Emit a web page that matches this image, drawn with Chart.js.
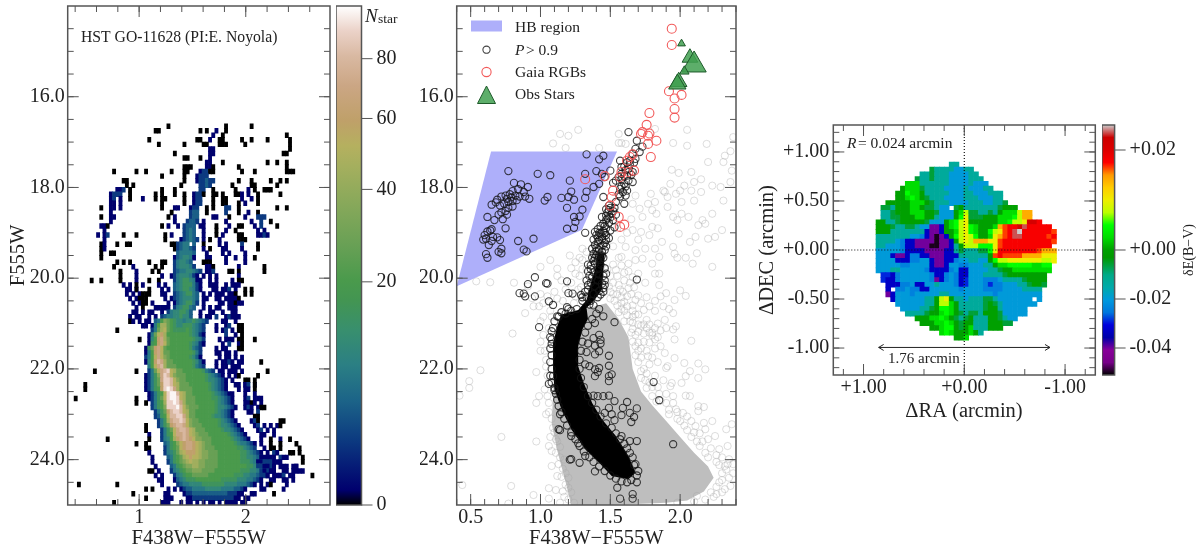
<!DOCTYPE html>
<html>
<head>
<meta charset="utf-8">
<script src="https://cdn.jsdelivr.net/npm/chart.js@4/dist/chart.umd.min.js"></script>
<style>
    html, body { margin: 0; padding: 0; background: #fff; width: 1200px; height: 552px; overflow: hidden; }
    canvas { position: absolute; top: 0; }
</style>
</head>
<body>
<canvas id="cmd-density" style="left:0;width:332px;height:552px"></canvas>
<canvas id="density-bar" style="left:336px;width:84px;height:552px"></canvas>
<canvas id="cmd-stars" style="left:420px;width:320px;height:552px"></canvas>
<canvas id="dered-map" style="left:755px;width:342px;height:552px"></canvas>
<canvas id="dered-bar" style="left:1101.7px;width:98px;height:552px"></canvas>
<script>
// left panel: binned CMD, each row is [mag row, "col:levels col:levels ..."]
// mag of a row = 14 + 0.1 * row, colour of a col = 0.33 + 0.03 * col
const levelCounts = { k: 0, a: 0.1, b: 1.7, c: 4, d: 7, e: 10, f: 15, g: 20, h: 27, i: 35, j: 45, l: 52, m: 60, n: 70, o: 80, p: 90, q: 98 };
const densityRows = [
    [26, "31:k 49:k 57:k"],
    [27, "27:k 28:k 41:k 43:k 46:a 49:k"],
    [28, "45:a 48:k 68:k"],
    [29, "25:k 40:kk 44:a 47:k 48:k 54:k 57:k 62:k 69:k"],
    [30, "28:k 36:k 42:kk 47:kkk 55:k 69:k"],
    [31, "44:aa 69:k"],
    [32, "33:k 44:aa 67:kk"],
    [33, "36:kk 41:k 44:a"],
    [34, "43:aa 48:k 62:k 65:k 68:k"],
    [35, "36:kk 38:k 43:aak 53:k 68:k"],
    [36, "14:k 21:k 24:k 32:k 36:kk 41:abbkk 54:k 58:k 68:k 69:kk"],
    [37, "29:k 36:k 40:abbb"],
    [38, "17:kk 36:k 40:abbcbb 53:k 57:k 63:k 66:k 68:k"],
    [39, "18:k 20:k 35:k 41:bbcb 51:k 57:k 58:k 65:k"],
    [40, "15:aab 19:k 29:k 33:k 41:bb 45:k 52:k 56:a 58:k 61:kkk"],
    [41, "13:abbb 19:k 27:k 29:k 33:k 36:k 39:abb 42:k 45:kk 48:k 52:kk 54:a 56:a 59:k 66:k"],
    [42, "13:ab.a 19:k 23:a 27:k 29:kk 36:k 39:abb 45:k 48:kk 54:a 57:a 59:k"],
    [43, "13:aa 16:a 29:k 36:k 39:abb 45:k 48:kk 53:k 55:a 59:k"],
    [44, "10:k 13:aa 16:a 29:k 33:aa 38:abb 43:k 45:k 49:bb 53:k 65:k 68:k"],
    [45, "13:a 32:k 38:bcc 43:k 49:b 53:k 56:a 59:k"],
    [46, "10:k 13:aa 31:k 33:a 38:bcc 45:aa 50:k 55:a 59:bbb"],
    [47, "13:a 33:a 37:bccb 42:a 49:a 57:a 60:b 63:k"],
    [48, "10:aak 29:k 31:a 34:a 36:bccc 41:aa 46:k 50:a 53:kk 58:a 60:b 65:k"],
    [49, "11:a 36:bcdc 42:a 46:k 49:a 52:k 59:a 61:a"],
    [50, "9:a.ab 17:k 21:k 30:k 32:a 36:bcdc 42:a 46:k 48:a 53:kk 59:aab 62:a"],
    [51, "11:a 30:k 35:abcdcb 42:a 44:k 47:a 53:kkk"],
    [52, "10:k 11:a 15:k 18:kk 32:kk 34:bcdd.c 42:k 47:a 49:a 54:b 59:k"],
    [53, "10:k 11:a 33:k 34:bcddcb 42:a 44:k 48:aa 54:a 59:k"],
    [54, "10:k 13:kk 34:cddddc 43:a 48:a 50:a 55:a"],
    [55, "10:k 33:a 34:cdeeda 43:aa 49:a 52:a 55:a 58:k"],
    [56, "15:k 17:k 19:k 25:k 29:kk 33:bdeedc 42:kkk 49:a 55:a"],
    [57, "14:k 20:a 27:k 29:k 33:bdeeedb 43:aak 53:a 61:k"],
    [58, "16:k 21:a 26:k 28:k 33:bcddeedcb 43:aab 50:kk 53:k 61:k"],
    [59, "16:k 21:a 29:a 32:abdeeedba 42:a.a 46:a 53:a"],
    [60, "7:k 10:k 16:k 21:a 25:k 28:k 33:bdeffeda 41:a 44:a.a 51:a 53:kk"],
    [61, "17:a.a 21:k 23:a 28:a 30:a 33:cdefffdb 41:a 44:aaa 49:a 51:aa 53:a"],
    [62, "18:aa.a 21:k 25:k 29:a 31:a 33:cdeffedb 41:a 45:aa 48:aab 52:a 55:k 57:k"],
    [63, "18:a 20:a.a 23:kk 25:k 29:aa 33:bcdeffdc 42:a.a 46:aaa 50:aa 52:k 55:k 57:k"],
    [64, "19:a.a 22:kkk 30:a.a 33:bcdeeedc 42:aa 46:aa 49:aa 51:aa 53:k"],
    [65, "20:a.ak 23:kk 26:a 31:a 33:acdeffdb 42:a 47:aa 50:aa 52:ka 54:a"],
    [66, "21:a 23:k 27:aaaaa 33:bdeffdc 42:a.a 46:aa 50:aa 52:a"],
    [67, "20:aa 23:a 25:aa 29:a 31:bdeeffec 41:a 44:aa 48:a 51:aa"],
    [68, "19:a.a 22:a 25:a.a 29:bcddeefeec 41:a.aa 46:b 49:aba 52:aa"],
    [69, "19:ka 22:a.a 25:a 27:cdgihgfeedeefedcb 48:aa 52:a"],
    [70, "23:aa 26:adgjjhgfeefffedcb 46:a 49:ab 53:kk"],
    [71, "15:k 26:bdhjlhgffffgfedcb 46:a 48:ab.a 53:kk"],
    [72, "25:adhlmjgggggggfedba 49:b 52:a 54:k"],
    [73, "22:k 25:aegmnjhgggggggfedb 47:a.a 50:aa 53:kk 58:k"],
    [74, "25:afgmnlhggggggfedba 48:a.b 53:ak"],
    [75, "24:afhmnlhgggggggfdcb 46:a 48:aa 53:kk"],
    [76, "24:adgmnlhhgggggggfdb 46:aa 49:aa 52:a"],
    [77, "24:bdglnlihggggggfeca 47:a.a 50:a 52:a 54:a"],
    [78, "24:aegmonjhhggggggfeca 46:a.a 49:aba 53:aa 60:k"],
    [79, "25:dglnojhhhgggggfdcb 46:a.aa 51:aaa 53:a"],
    [80, "8:k 21:k 25:bdhlnopljhhggggggfdcb 47:aa.aa 52:a.a 62:k"],
    [81, "24:abdfinpolihhhggggggfedcba 50:a.a 53:k 59:k"],
    [82, "24:abdfhnppolihhggggggfeedcba 51:a 55:kk 58:k"],
    [83, "5:k 24:abdfhmppoljhhhggggggfedcba 52:aa.a 55:ab.a 58:k"],
    [84, "5:k 24:abdfgmpqpnjhhhhgggggfedcba 53:a.aa 58:k"],
    [85, "25:abdfglpqqoljhhggggggfedcbaa 55:a 58:a"],
    [86, "2:k 21:k 25:abdfhlpqqpljhhhgggggffedcba 55:ab.a 59:aa"],
    [87, "21:k 24:k 26:bdfgjppqpnjhhhggggggfedcba 55:aak 58:a.a"],
    [88, "26:bdfgipppqolihhhgggggfeedcba 55:aba.a 60:kk"],
    [89, "27:bdfhmoppoljhhggggggfedcba 56:aa.b"],
    [90, "27:bcfglooppnjhhgggggfeedcba 58:kk"],
    [91, "28:bdfjnoopolihhggggggfedcba 57:abk 66:kk"],
    [92, "24:k 28:bdfhmnoonlihhhgggggfeedcba 58:ab 61:a 63:a.a 66:k"],
    [93, "24:k 29:bdfhlnoonljhhhgggggfeedcba 59:ab 62:a.a"],
    [94, "25:a 29:bdfglnnonljihhhggggggfedcba 60:aa 64:a"],
    [95, "12:k 25:k 29:bdegjmnonmliihhhggggggfedcba 60:a 63:k 66:a 69:k"],
    [96, "21:k 24:k 30:cdfgilmnnmljihhgggggggfeddcba 60:a 63:k 66:k 71:k"],
    [97, "24:kk 30:bdfghlmnnmljihhhgggggggffedcb 61:a 63:kk 66:k 72:k"],
    [98, "25:a 30:bdefhjlmmmljiihhhgggggggffedcba 62:a.b 65:a 69:kk 72:k"],
    [99, "26:a 31:cdfghjlmlljiihhhgggggggffeedcba 60:a.aaa.b 67:aa 73:k"],
    [100, "26:a 31:bdfghijljjiihhhhgggggggfffeddcba 59:aabbbaa 66:a 73:k"],
    [101, "27:a 32:cdfghiijjiihhhhgggggggggffeedcbba 59:bbaa 64:a.aaa.aa 71:a"],
    [102, "25:kk 28:a 32:bdefghhiiihhhhggggggggfffeeddcbba 60:ba 63:aa 67:aa.aaaa"],
    [103, "27:a 29:a 33:bdefgghhhhhggggggggfffeeddcbba 62:a.aa 66:ab.aa 76:k"],
    [104, "28:aa 33:acdefffggggggggfffffeeeddcba 63:aa 67:aa 70:a"],
    [105, "3:k 15:k 29:a 34:bcddeeeefffffffeeeedddcba 60:a 62:ak 68:a"],
    [106, "24:k 26:k 31:a.a 35:abccddddeeeeeddddccba 60:aa 67:a"],
    [107, "20:k 30:aa 36:abbcccccccccccbbbaa 57:aa 64:k"],
    [108, "24:k 30:aaa 37:aabbbbbbbbbbbbbaa 55:aa"],
    [109, "14:k 29:aaa 35:a.aa 40:a.a.aa.a.a.aa 50:a.a 54:aa"],
];
const densityXTicks = [1, 2];
const densityYTicks = [16, 18, 20, 22, 24];
const densityBarTicks = [0, 20, 40, 60, 80];

// middle panel: F438W-F555W, F555W pairs
const hbRegion = [[0.646, 17.21], [1.548, 17.21], [1.297, 18.93], [0.4, 20.18]];
const fieldCore = [[1.30, 20.7], [1.47, 20.55], [1.56, 20.9], [1.63, 21.3], [1.66, 22], [1.72, 22.5], [1.8, 22.8], [1.9, 23.15], [2.0, 23.5], [2.1, 23.85], [2.2, 24.15], [2.24, 24.4], [2.17, 24.7], [2.05, 24.9], [1.9, 24.95], [1.5, 25], [1.22, 25], [1.18, 24.5], [1.12, 23.8], [1.08, 23.2], [1.1, 22], [1.12, 21]];
const memberCore = [[1.45, 19.85], [1.44, 20.25], [1.39, 20.47], [1.33, 20.66], [1.34, 20.9], [1.30, 21.13], [1.27, 21.5], [1.27, 21.94], [1.31, 22.31], [1.37, 22.75], [1.44, 23.11], [1.54, 23.48], [1.63, 23.92], [1.68, 24.29], [1.63, 24.43], [1.51, 24.36], [1.42, 24.07], [1.32, 23.77], [1.22, 23.33], [1.15, 22.89], [1.10, 22.45], [1.09, 22.01], [1.09, 21.43], [1.12, 21.06], [1.15, 20.8], [1.27, 20.7], [1.33, 20.48], [1.36, 20.11], [1.39, 19.82], [1.41, 19.45], [1.46, 19.45]];
const fieldStars = [
    [1.27, 16.73], [1.14, 16.82], [1.20, 16.86], [1.09, 17.03], [1.18, 17.13], [1.42, 17.13], [1.56, 16.82], [1.56, 17.02], [1.58, 17.02], [1.61, 17.04],
    [1.82, 16.71], [2.05, 16.73], [1.95, 17.02], [2.05, 17.08], [2.19, 17.04], [2.38, 16.89], [2.36, 17.2], [2.32, 17.3], [2.2, 17.44], [2.31, 17.44],
    [2.37, 17.63], [1.94, 17.61], [1.99, 17.68], [2.08, 17.66], [1.93, 17.92], [2.03, 17.96], [2.1, 17.88], [2.15, 17.82], [2.23, 17.96], [2.36, 17.88],
    [2.29, 17.99], [1.88, 18.07], [1.89, 18.1], [1.79, 18.14], [1.68, 18.18], [2.0, 18.07], [2.08, 18.07], [2.15, 18.1], [1.91, 18.21], [1.97, 18.14],
    [2.01, 18.32], [2.1, 18.29], [2.31, 18.29], [1.82, 18.32], [1.77, 18.36], [1.66, 18.36], [1.71, 18.47], [1.8, 18.5], [1.83, 18.58], [1.91, 18.43],
    [1.95, 18.65], [2.01, 18.58], [2.06, 18.65], [2.16, 18.72], [2.18, 18.8], [2.13, 18.83], [2.23, 18.58], [1.8, 18.87], [1.72, 18.98], [1.66, 18.94],
    [1.84, 18.9], [1.98, 18.72], [2.11, 19.09], [1.99, 19.02], [2.2, 19.13], [2.25, 19.09], [2.3, 18.94], [1.95, 19.31], [1.96, 19.46], [1.98, 19.55],
    [1.68, 19.38], [1.61, 19.31], [1.75, 19.35], [1.82, 19.35], [1.3, 19.35], [1.33, 19.42], [1.21, 19.5], [1.07, 19.6], [1.0, 19.75], [1.12, 19.79],
    [1.58, 19.53], [1.63, 19.68], [1.68, 19.6], [1.73, 19.57], [1.8, 19.68], [1.85, 19.53], [2.04, 19.55], [2.09, 19.68], [2.23, 19.75], [0.54, 20.07],
    [0.64, 20.09], [0.81, 20.1], [0.91, 20.18], [0.94, 20.44], [0.99, 20.62], [0.89, 20.77], [0.8, 21.22], [0.97, 22.07], [0.57, 22.03], [0.49, 22.27],
    [0.49, 22.42], [0.42, 22.59], [0.99, 22.6], [0.97, 22.75], [1.06, 22.75], [0.72, 23.5], [0.97, 23.6], [1.06, 23.7], [1.08, 23.81], [1.08, 24.14],
    [1.12, 24.36], [0.44, 24.56], [0.79, 24.58], [1.06, 24.63], [1.11, 24.67], [0.95, 24.78], [1.06, 24.86], [0.77, 24.97], [1.82, 19.9], [1.85, 19.9],
    [2.0, 20.27], [2.04, 20.39], [1.85, 20.15], [1.9, 20.33], [1.96, 20.48], [1.95, 20.77], [1.8, 21.2], [1.84, 21.0], [1.68, 20.8], [1.76, 20.92],
    [1.89, 20.92], [1.97, 21.06], [1.95, 21.13], [1.82, 21.35], [2.08, 21.38], [1.96, 21.35], [1.89, 21.65], [1.77, 21.72], [1.96, 21.76], [2.03, 21.87],
    [1.91, 21.94], [1.90, 21.98], [2.13, 21.88], [2.18, 22.01], [2.07, 22.05], [2.04, 22.16], [2.13, 22.2], [2.01, 22.31], [1.93, 22.38], [1.94, 22.31],
    [2.04, 22.59], [2.07, 22.6], [1.97, 22.89], [2.02, 22.97], [2.13, 22.82], [2.17, 22.84], [2.13, 22.93], [2.17, 23.19], [2.23, 23.15], [2.18, 23.33],
    [2.33, 23.33], [2.37, 23.22], [2.11, 23.26], [2.25, 23.48], [2.28, 23.77], [2.34, 23.7], [2.35, 23.99], [2.32, 24.14], [2.36, 24.58], [2.26, 24.76],
    [2.33, 24.22], [1.66, 20.6], [1.7, 20.8], [1.64, 20.95], [1.72, 21.05], [1.68, 21.25], [1.76, 21.1], [1.74, 21.4], [1.7, 21.6], [1.78, 21.9],
    [1.72, 22.05], [1.78, 22.3], [1.85, 22.55], [1.92, 22.9], [1.9, 22.75], [1.98, 23.1], [2.05, 23.35], [2.12, 23.6], [2.18, 23.85], [2.26, 24.05],
    [2.3, 24.3], [2.28, 24.5], [2.22, 24.72], [2.12, 24.8], [1.98, 24.95], [1.5, 20.3], [1.52, 20.1], [1.55, 19.95], [1.6, 20.05], [1.57, 20.25],
    [1.62, 20.4], [1.48, 19.8], [1.52, 19.7], [1.56, 19.55], [1.7, 19.9], [1.75, 20.1], [1.67, 20.2], [1.16, 24.7], [1.14, 24.95], [1.2, 24.4],
    [1.17, 24.0], [1.12, 23.6], [1.09, 23.3], [1.04, 23.0], [1.06, 22.3], [1.04, 21.8], [1.03, 21.6], [1.0, 21.4], [1.06, 21.1], [1.0, 20.95],
    [1.08, 20.85], [1.25, 19.9], [1.22, 20.1], [1.29, 20.2], [1.18, 20.25], [1.1, 20.3], [1.3, 19.8], [1.12, 19.95], [1.25, 19.65], [1.55, 18.9],
    [1.62, 19.0], [1.7, 19.15], [1.58, 19.15], [1.52, 19.3], [1.78, 19.05], [1.65, 18.7], [1.73, 18.65], [1.87, 19.2], [2.07, 19.2], [2.12, 19.45],
    [1.58, 20.55], [1.62, 20.62], [1.6, 20.72], [1.66, 20.72], [1.74, 20.7], [1.78, 20.62], [1.72, 20.55], [1.68, 20.48], [1.76, 20.42], [1.82, 20.5],
    [1.86, 20.4], [1.82, 20.72], [1.88, 20.62], [1.92, 20.68], [1.66, 20.98], [1.7, 21.02], [1.74, 21.02], [1.78, 21.02], [1.82, 21.1], [1.86, 21.15],
    [1.9, 21.1], [1.66, 21.12], [1.7, 21.18], [1.74, 21.22], [1.78, 21.2], [1.8, 21.26], [1.84, 21.3], [1.66, 21.4], [1.7, 21.42], [1.78, 21.42],
    [1.72, 21.55], [1.76, 21.6], [1.82, 21.55], [1.86, 21.5], [1.68, 21.7], [1.72, 21.75], [1.8, 21.75], [1.7, 21.85], [1.84, 21.85], [1.74, 22.0],
    [1.76, 22.1], [1.82, 22.15], [1.72, 22.2], [1.75, 22.25], [1.8, 22.4], [1.76, 22.42], [1.84, 22.4], [1.88, 22.25], [1.8, 22.6], [1.86, 22.7],
    [1.83, 22.72], [1.9, 22.55], [1.95, 22.6], [1.95, 22.75], [1.92, 23.0], [1.98, 22.95], [2.0, 23.15], [2.05, 23.05], [2.08, 23.15], [2.03, 23.25],
    [2.1, 23.4], [2.14, 23.42], [2.08, 23.5], [2.16, 23.6], [2.2, 23.55], [2.14, 23.7], [2.22, 23.75], [2.2, 23.95], [2.26, 23.9], [2.3, 23.95],
    [2.28, 24.12], [2.34, 24.1], [2.38, 24.1], [2.35, 24.4], [2.3, 24.45], [2.32, 24.65], [2.26, 24.6], [2.24, 24.82], [2.18, 24.88], [2.1, 24.92],
    [2.3, 24.72], [2.38, 24.3], [1.02, 21.25], [1.0, 21.6], [1.04, 21.95], [1.05, 22.15], [1.03, 22.45], [1.05, 22.6], [1.06, 22.95], [1.08, 23.1],
    [1.1, 23.4], [1.07, 23.5], [1.11, 23.55], [1.14, 23.72], [1.11, 23.85], [1.14, 23.95], [1.13, 24.1], [1.16, 24.2], [1.18, 24.3], [1.15, 24.38],
    [1.18, 24.55], [1.2, 24.62], [1.17, 24.82], [1.2, 24.88], [1.24, 24.95], [1.22, 24.72], [1.05, 20.4], [1.0, 20.35], [1.02, 20.55], [1.07, 20.72],
    [0.95, 20.62], [1.02, 20.85], [1.12, 20.45], [1.16, 20.5], [1.24, 20.55], [1.27, 20.25], [1.15, 20.05], [1.25, 20.4], [1.28, 19.95], [1.22, 19.78],
    [1.3, 19.6], [1.33, 19.8], [1.28, 19.55], [1.5, 20.45], [1.53, 20.5], [1.55, 20.6], [1.58, 20.42], [1.52, 20.35], [1.56, 20.15], [1.49, 20.18],
    [1.59, 20.3], [1.63, 20.22], [1.6, 19.88], [1.64, 20.1], [1.54, 19.82], [1.58, 19.72], [1.63, 19.85], [1.66, 19.98], [1.5, 19.95], [1.55, 20.35],
    [1.6, 20.52], [1.65, 20.35], [1.7, 20.38], [1.58, 20.68], [1.62, 20.82], [1.56, 20.75], [1.66, 20.85], [1.6, 20.95], [1.65, 21.2], [1.68, 21.5]
];
const memberStars = [
    [0.77, 17.64], [0.81, 17.90], [0.86, 17.93], [0.91, 17.99], [0.84, 18.04], [0.88, 18.10], [0.80, 18.08], [0.78, 18.15], [0.75, 18.18], [0.72, 18.20],
    [0.69, 18.27], [0.76, 18.25], [0.79, 18.22], [0.82, 18.18], [0.85, 18.20], [0.89, 18.20], [0.92, 18.25], [0.83, 18.28], [0.80, 18.30], [0.77, 18.32],
    [0.74, 18.36], [0.71, 18.40], [0.68, 18.33], [0.65, 18.38], [0.77, 18.45], [0.80, 18.42], [0.75, 18.52], [0.72, 18.55], [0.70, 18.60], [0.67, 18.72],
    [0.62, 18.65], [0.73, 18.70], [0.76, 18.60], [0.65, 18.92], [0.62, 18.97], [0.60, 19.05], [0.59, 19.15], [0.61, 19.13], [0.64, 18.95], [0.66, 19.09],
    [0.69, 19.1], [0.63, 19.27], [0.65, 19.18], [0.71, 19.16], [0.72, 19.35], [0.61, 19.47], [0.62, 19.55], [0.70, 19.42], [0.72, 19.45], [0.84, 19.18],
    [0.88, 19.37], [0.90, 19.41], [0.95, 19.13], [0.75, 18.9], [0.98, 17.7], [1.07, 17.73], [1.03, 18.29], [1.05, 18.21], [1.15, 18.23], [1.20, 18.21],
    [1.24, 18.27], [1.22, 18.09], [1.21, 17.85], [1.19, 18.45], [1.30, 18.49], [1.24, 18.65], [1.25, 18.76], [1.28, 18.64], [1.19, 18.91], [1.24, 18.89],
    [1.32, 19.0], [1.32, 17.7], [1.40, 17.64], [1.42, 17.92], [1.38, 17.99], [1.33, 18.09], [1.32, 18.23], [1.45, 18.21], [1.44, 17.7], [1.46, 17.77],
    [1.33, 17.27], [1.42, 17.38], [1.45, 17.3], [1.50, 17.63], [1.63, 16.78], [1.69, 16.97], [1.71, 17.22], [1.66, 17.26], [1.68, 17.37], [1.64, 17.41],
    [1.57, 17.41], [1.60, 17.54], [1.63, 17.59], [1.66, 17.66], [1.62, 17.74], [1.58, 17.7], [1.56, 17.77], [1.66, 17.88], [1.60, 17.92], [1.54, 17.85],
    [1.57, 18.03], [1.62, 18.07], [1.61, 18.18], [1.60, 18.36], [1.54, 18.32], [1.58, 17.82], [1.61, 17.62], [1.64, 17.5], [1.52, 17.9], [1.58, 17.98],
    [1.50, 18.45], [1.49, 18.5], [1.48, 18.55], [1.51, 18.58], [1.47, 18.62], [1.50, 18.66], [1.44, 18.65], [1.47, 18.72], [1.49, 18.78], [1.45, 18.8],
    [1.43, 18.85], [1.47, 18.9], [1.53, 18.88], [1.41, 18.92], [1.45, 18.96], [1.50, 18.95], [1.39, 18.98], [1.43, 19.02], [1.47, 19.05], [1.41, 19.1],
    [1.44, 19.14], [1.49, 19.12], [1.38, 19.15], [1.41, 19.2], [1.46, 19.22], [1.39, 19.27], [1.43, 19.3], [1.47, 19.3], [1.37, 19.35], [1.4, 19.4],
    [1.44, 19.42], [1.38, 19.46], [1.42, 19.5], [1.37, 19.55], [1.41, 19.6], [1.45, 19.55], [1.39, 19.68], [1.43, 19.7], [1.36, 19.72], [1.34, 19.7],
    [1.46, 19.78], [1.41, 19.8], [1.38, 19.87], [1.42, 19.92], [1.37, 19.98], [1.45, 19.95], [1.41, 20.05], [1.36, 20.1], [1.44, 20.12], [1.39, 20.18],
    [1.45, 20.22], [1.34, 20.25], [1.42, 20.28], [1.38, 20.35], [1.33, 20.42], [1.43, 20.36], [1.3, 20.5], [1.36, 20.5], [1.69, 20.03], [0.96, 19.98],
    [0.91, 20.13], [1.04, 20.11], [1.05, 20.12], [1.19, 20.07], [1.2, 20.33], [1.23, 20.34], [1.29, 20.37], [0.85, 20.33], [0.88, 20.34], [0.89, 20.4],
    [0.96, 20.4], [1.06, 20.51], [1.09, 20.59], [1.19, 20.64], [1.12, 20.84], [0.99, 21.08], [1.53, 20.97], [1.45, 20.84], [1.39, 20.99], [1.42, 21.25],
    [1.43, 21.36], [1.43, 21.44], [1.38, 21.32], [1.34, 21.44], [1.39, 21.49], [1.42, 21.61], [1.33, 21.63], [1.39, 21.68], [1.49, 21.71], [1.49, 21.93],
    [1.32, 21.9], [1.35, 21.94], [1.42, 21.98], [1.39, 22.01], [1.41, 22.07], [1.39, 22.16], [1.51, 22.12], [1.49, 22.16], [1.49, 22.27], [1.81, 22.29],
    [1.85, 22.69], [1.49, 22.59], [1.45, 22.6], [1.41, 22.6], [1.38, 22.59], [1.53, 22.71], [1.62, 22.73], [1.59, 22.86], [1.64, 22.97], [1.69, 22.87],
    [1.49, 22.86], [1.46, 22.97], [1.51, 23], [1.58, 23.02], [1.67, 23.06], [1.53, 23.13], [1.65, 23.17], [1.69, 23.59], [1.95, 23.66], [1.58, 23.48],
    [1.64, 23.59], [1.55, 24.62], [1.66, 24.76], [1.57, 24.86], [1.66, 24.86], [1.69, 24.5], [1.7, 24.25], [1.67, 24.12], [1.22, 23.99], [1.21, 24.0],
    [1.28, 24.07], [1.39, 24.26], [1.32, 23.92], [1.13, 23.33], [1.14, 23.35], [1.22, 23.48], [1.27, 23.64], [1.06, 22.33], [1.1, 22.47], [1.09, 22.16],
    [1.13, 22.82], [1.14, 23], [1.08, 21.17], [1.08, 21.35], [1.13, 20.85], [1.1, 20.95], [1.09, 21.1], [1.07, 21.3], [1.08, 21.45], [1.07, 21.55],
    [1.08, 21.7], [1.07, 21.85], [1.08, 22.0], [1.07, 22.15], [1.08, 22.3], [1.1, 22.42], [1.11, 22.55], [1.12, 22.68], [1.15, 22.95], [1.17, 23.1],
    [1.19, 23.25], [1.22, 23.4], [1.25, 23.55], [1.28, 23.7], [1.31, 23.82], [1.35, 23.95], [1.38, 24.05], [1.42, 24.15], [1.46, 24.25], [1.5, 24.35],
    [1.54, 24.42], [1.58, 24.48], [1.62, 24.5], [1.65, 24.45], [1.69, 24.35], [1.68, 24.1], [1.66, 23.95], [1.64, 23.85], [1.62, 23.75], [1.6, 23.65],
    [1.57, 23.55], [1.54, 23.42], [1.51, 23.3], [1.47, 23.2], [1.43, 23.05], [1.4, 22.9], [1.37, 22.75], [1.34, 22.6], [1.31, 22.4], [1.29, 22.2],
    [1.28, 22], [1.28, 21.8], [1.29, 21.6], [1.3, 21.4], [1.32, 21.2], [1.34, 21.05], [1.37, 20.9], [1.4, 20.78], [1.42, 20.68], [1.38, 20.6],
    [1.42, 19.0], [1.40, 19.05], [1.46, 19.0], [1.44, 19.08], [1.42, 19.16], [1.47, 19.16], [1.45, 19.27], [1.40, 19.33], [1.42, 19.38], [1.46, 19.38],
    [1.39, 19.55], [1.43, 19.6], [1.44, 19.5], [1.40, 19.5], [1.38, 19.62], [1.36, 19.8], [1.34, 19.85], [1.35, 19.95], [1.33, 20.05], [1.34, 20.15],
    [1.32, 20.3], [1.3, 20.42], [1.46, 20.05], [1.47, 19.9], [1.46, 20.15], [1.45, 20.3], [1.41, 20.42], [1.35, 20.58], [1.48, 18.68], [1.46, 18.85],
    [1.52, 18.72], [1.54, 18.6], [1.53, 18.45], [1.47, 18.48], [1.52, 18.52], [1.49, 18.4], [1.57, 18.2], [1.59, 18.1], [1.56, 18.15], [1.61, 17.98],
    [1.63, 17.85], [1.65, 17.72], [1.6, 17.75], [1.58, 17.55], [1.62, 17.45], [1.67, 17.45], [1.68, 17.15], [1.73, 17.1], [1.18, 20.78], [1.22, 20.72],
    [1.26, 20.68], [1.15, 20.75], [1.2, 20.68]
];
const gaiaStars = [
    [1.94, 14.5], [1.94, 14.86], [1.92, 15.88], [1.96, 16.04], [2.01, 15.96], [1.96, 16.27], [1.96, 16.46], [1.78, 16.36], [1.76, 16.62], [1.73, 16.78],
    [1.72, 16.82], [1.77, 16.86], [1.78, 16.81], [1.83, 16.97], [1.77, 17.04], [1.79, 17.33], [1.66, 17.27], [1.64, 17.33], [1.62, 17.41], [1.67, 17.63],
    [1.63, 17.66], [1.58, 17.66], [1.57, 17.77], [1.32, 17.82], [1.46, 17.75], [1.52, 18.07], [1.51, 18.21], [1.5, 18.4], [1.56, 18.65], [1.6, 18.82], [1.57, 18.87]
];
const obsStars = [[2.01, 14.83], [2.07, 15.14], [2.10, 15.3], [2.03, 15.44], [1.99, 15.67], [1.98, 15.72]];
const cmdXTicks = [0.5, 1.0, 1.5, 2.0];

// right panel: each row is [row, "col:codes"], dRA = 0.876 - 0.0484 * col, dDEC = 0.895 - 0.049 * row
const codeValues = { K: -0.05, P: -0.047, U: -0.04, N: -0.033, B: -0.029, C: -0.024, S: -0.02, T: -0.013, H: -0.006, G: 0, L: 0.0025, M: 0.005, Y: 0.0075, O: 0.01, o: 0.014, R: 0.0165, r: 0.018, D: 0.021, W: 0.0235, w: 0.025 };
const mapRows = [
    [0, "15:TT"],
    [1, "11:HTTTTSSTT"],
    [2, "9:TTHTTTSSSSTT"],
    [3, "8:HTTHTTTSSSSTTT"],
    [4, "6:LLLTTTTTTSSSSTSSS"],
    [5, "5:GLLLHTTTTSSSSTSSSTT"],
    [6, "4:GGMLLGTTTTTSSSTTSSSTTT"],
    [7, "4:GGLMLGHTTTSSSSTTTSSSTT"],
    [8, "2:GGGGGLLLGHTTTSSSSTTTSSTTH"],
    [9, "1:HHTGGGLLGHHTSS.HGTTTTTTTHGGG"],
    [10, "1:TTHGGGLLLGGHSSSGLYHHTTHTGLLLYoo"],
    [11, "1:TTHHGGGLLGGTSSSGMOHHHGGGLLLMYoo"],
    [12, "0:GGTTHGGGGGHSSSGLMYOGGGGGGLLMYYODDr"],
    [13, "0:GGGHTTHHTSSUUNGLMYOMLGGGLoRrrDWrrrrr"],
    [14, "0:GGGTTTTTTTNUUNGGLYOMLGGMYORrWwrrrrrrR"],
    [15, "0:TTTTTTTSSCNUKUNGMYOYMGGLOoRrWWrrrrrRr"],
    [16, "0:TTTTSCNNUUUUKUUNGYOYoooOORrrrrrrrrrrR"],
    [17, "0:TTSSSCNNUUUKKUUNTGYYYMMMORrrrrrrrrrr"],
    [18, "0:SSSSSCNNNNUUUUNNTHTTTHHMOrrrrrrrrRooo"],
    [19, "0:SSSNUUNCCNNUUUNNNTTTTTTGRrRRRRooooOOO"],
    [20, "0:SSSSNNNCCSSNUUNNCSSTTSSGMYYOOOOOOOYYO"],
    [21, "0:SSSSSCCSSSSNUUNSSCCSSSTTGLLMMMMMLLMM"],
    [22, "0:SSSTTSSSSSCNNNNCSNNSSSSTTHGGLLLLLLLL"],
    [23, "1:BBNCSSSSSSCNNCSCNNSSSTTTTHGGGGGGGG"],
    [24, "1:BNNCSSSSSSCUNCSCNBSSSCCCSTTTTHGGGG"],
    [25, "2:NNNCCSNNSSTSSSCNBSSSCBCCSSSTTHGGH"],
    [26, "2:N.CCSCCNNSSSSSSCSSSSCCCCSSSSTTTT"],
    [27, "2:UNSSSCSSSSSTTSSSSSSSSSCSSSSSSSSS"],
    [28, "3:NSSSSSSTTGYOGTTSTTTHHTSSSSSSS.S"],
    [29, "4:SSSSSSTTGYYLGTTTTTHGHTSSSSSSS"],
    [30, "5:SSSSTTHGMMLGTTTTTHGGTSSSSS"],
    [31, "6:TTTTHGGLMLGHTHHTGGGHSSSSS"],
    [32, "8:GGGLLMLGHTHGTTTGGHTSS"],
    [33, "9:GGGLLMLGHGGTTTGGGHH"],
    [34, "11:GGLMMGHGLTTTGGG"],
    [35, "13:LMLGGGLGT"],
    [36, "16:GGL"],
];
const mapXTicks = [1, 0, -1];
const mapYTicks = [1, 0.5, 0, -0.5, -1];
const mapBarTicks = [0.02, 0, -0.02, -0.04];
const arrowRA = [0.85, -0.85];
const arrowDEC = [-0.994, -0.994];

const serif = '"Liberation Serif", "Times New Roman", serif';
const axisColor = "#555";
const textColor = "#222";
const hbColor = "#aeaffa";
const memberRing = "rgba(20,20,20,0.8)";
const gaiaRing = "#f25a5a";
const obsFill = "rgba(65,160,80,0.85)";
const obsEdge = "#1e5a2a";

// colour ramps taken off the two colour bars, position 0..1 from the bottom
const earthRamp = [
    [0, "#000000"], [0.03, "#00006e"], [0.13, "#0c3a80"], [0.21, "#1c6488"], [0.28, "#2b7f84"], [0.35, "#388f6e"],
    [0.41, "#439552"], [0.45, "#4a9a4c"], [0.52, "#68a055"], [0.6, "#86a85a"], [0.68, "#a5af5e"], [0.72, "#b5b05f"],
    [0.77, "#bfa069"], [0.84, "#cba684"], [0.9, "#d9b9a2"], [0.95, "#ebd2c8"], [1, "#ffffff"],
];
const spectralRamp = [
    [0, "#000000"], [0.05, "#770088"], [0.1, "#880099"], [0.15, "#0000aa"], [0.2, "#0000dd"], [0.25, "#0077dd"],
    [0.3, "#0099dd"], [0.35, "#00aaaa"], [0.4, "#00aa88"], [0.47, "#009900"], [0.5, "#00a000"], [0.55, "#00dd00"],
    [0.6, "#00ff00"], [0.65, "#bbff00"], [0.7, "#eeee00"], [0.75, "#ffcc00"], [0.8, "#ff9900"], [0.85, "#ff0000"],
    [0.9, "#dd0000"], [0.95, "#cc0000"], [1, "#cccccc"],
];

function hexToRgb(hex) {
    return [1, 3, 5].map((i) => parseInt(hex.slice(i, i + 2), 16));
}

function rampColor(ramp, t) {
    let i = 1;
    while (i < ramp.length - 1 && ramp[i][0] < t) i++;
    const a = ramp[i - 1];
    const b = ramp[i];
    const f = Math.min(1, Math.max(0, (t - a[0]) / (b[0] - a[0])));
    const ca = hexToRgb(a[1]);
    const cb = hexToRgb(b[1]);
    const c = ca.map((v, k) => Math.round(v + (cb[k] - v) * f));
    return `rgb(${c[0]},${c[1]},${c[2]})`;
}

// colour bars are not linear: sqrt for the star counts, two slopes for dE
const countPos = (n) => Math.sqrt(n / 100);
const dePos = (v) => (v >= 0 ? 0.5 + 20 * v : 0.5 + 9.8 * v);

function parseRows(rows, onCell) {
    rows.forEach(([row, text]) => {
        text.split(" ").forEach((token) => {
            const [start, codes] = token.split(":");
            [...codes].forEach((code, i) => {
                if (code !== ".") onCell(row, Number(start) + i, code);
            });
        });
    });
}

const densityCells = [];
const densityColors = [];
parseRows(densityRows, (row, col, code) => {
    const c0 = 0.33 + 0.03 * col;
    densityCells.push({ x: [c0, c0 + 0.03], y: 14 + 0.1 * row + 0.05 });
    densityColors.push(rampColor(earthRamp, countPos(levelCounts[code])));
});

const mapCells = [];
const mapColors = [];
parseRows(mapRows, (row, col, code) => {
    const ra = 0.876 - 0.0484 * col;
    mapCells.push({ x: [ra - 0.0484, ra], y: 0.895 - 0.049 * row - 0.0245 });
    mapColors.push(rampColor(spectralRamp, dePos(codeValues[code])));
});

const toXY = (list) => list.map((p) => ({ x: p[0], y: p[1] }));

const range = (from, to, step) => {
    const out = [];
    for (let v = from; v <= to + 1e-9; v += step) out.push(Number(v.toFixed(4)));
    return out;
};

// frame and inward ticks on all four sides, matplotlib style
const frameTicks = {
    id: "frameTicks",
    afterDatasetsDraw(chart, args, opts) {
        const { ctx, chartArea: area, scales } = chart;
        ctx.save();
        ctx.strokeStyle = axisColor;
        ctx.lineWidth = 1;
        const xLine = (px, len) => {
            ctx.beginPath();
            ctx.moveTo(px, area.top);
            ctx.lineTo(px, area.top + len);
            ctx.moveTo(px, area.bottom);
            ctx.lineTo(px, area.bottom - len);
            ctx.stroke();
        };
        const yLine = (py, len) => {
            ctx.beginPath();
            ctx.moveTo(area.left, py);
            ctx.lineTo(area.left + len, py);
            ctx.moveTo(area.right, py);
            ctx.lineTo(area.right - len, py);
            ctx.stroke();
        };
        (opts.xMinor || []).forEach((v) => xLine(scales.x.getPixelForValue(v), 6));
        (opts.xMajor || []).forEach((v) => xLine(scales.x.getPixelForValue(v), 11));
        (opts.yMinor || []).forEach((v) => yLine(scales.y.getPixelForValue(v), 6));
        (opts.yMajor || []).forEach((v) => yLine(scales.y.getPixelForValue(v), 11));
        (opts.outMajor || []).forEach((v) => {
            const py = scales.y.getPixelForValue(v);
            ctx.beginPath();
            ctx.moveTo(area.right, py);
            ctx.lineTo(area.right + 11, py);
            ctx.stroke();
        });
        ctx.lineWidth = 1.5;
        ctx.strokeRect(area.left, area.top, area.right - area.left, area.bottom - area.top);
        ctx.restore();
    },
};

// free text placed on the canvas
const noteText = {
    id: "noteText",
    afterDraw(chart, args, opts) {
        const ctx = chart.ctx;
        ctx.save();
        ctx.fillStyle = textColor;
        ctx.textBaseline = "alphabetic";
        (opts.items || []).forEach((it) => {
            ctx.save();
            ctx.translate(it.x, it.y);
            if (it.rotate) ctx.rotate(it.rotate);
            ctx.font = it.font;
            ctx.textAlign = it.align || "left";
            ctx.fillText(it.text, 0, 0);
            ctx.restore();
        });
        ctx.restore();
    },
};

// legend keys of the middle panel
const legendKeys = {
    id: "legendKeys",
    afterDraw(chart) {
        const ctx = chart.ctx;
        ctx.save();
        ctx.fillStyle = hbColor;
        ctx.fillRect(51, 20.5, 31, 11);
        ctx.lineWidth = 1.1;
        ctx.strokeStyle = memberRing;
        ctx.beginPath();
        ctx.arc(66.5, 49.7, 3.6, 0, Math.PI * 2);
        ctx.stroke();
        ctx.lineWidth = 1.1;
        ctx.strokeStyle = gaiaRing;
        ctx.beginPath();
        ctx.arc(66.5, 72, 4.6, 0, Math.PI * 2);
        ctx.stroke();
        ctx.lineWidth = 1;
        ctx.fillStyle = obsFill;
        ctx.strokeStyle = obsEdge;
        ctx.beginPath();
        ctx.moveTo(66.5, 86);
        ctx.lineTo(75.5, 103.5);
        ctx.lineTo(57.5, 103.5);
        ctx.closePath();
        ctx.fill();
        ctx.stroke();
        ctx.restore();
    },
};

const arrowHeads = {
    id: "arrowHeads",
    afterDatasetsDraw(chart) {
        const { ctx, scales } = chart;
        const y = scales.y.getPixelForValue(arrowDEC[0]);
        ctx.save();
        ctx.strokeStyle = "#222";
        ctx.lineWidth = 1;
        arrowRA.forEach((ra, i) => {
            const x = scales.x.getPixelForValue(ra);
            const d = i === 0 ? 5 : -5;
            ctx.beginPath();
            ctx.moveTo(x + d, y - 3);
            ctx.lineTo(x, y);
            ctx.lineTo(x + d, y + 3);
            ctx.stroke();
        });
        ctx.restore();
    },
};

function linearAxis(conf) {
    const axis = {
        type: "linear",
        min: conf.min,
        max: conf.max,
        offset: false,
        reverse: !!conf.reverse,
        grid: { display: false, drawTicks: false, offset: false },
        border: { display: false },
        afterBuildTicks(scale) {
            scale.ticks = conf.ticks.map((v) => ({ value: v }));
        },
        ticks: {
            autoSkip: false,
            padding: conf.padding,
            color: textColor,
            font: { family: serif, size: 20 },
            callback: conf.label,
            maxRotation: 0,
            minRotation: 0,
        },
        afterFit(scale) {
            if (scale.isHorizontal()) scale.height = conf.size;
            else scale.width = conf.size;
            // labels sit inside the axis span, keep the plot area where it is
            scale.paddingTop = 0;
            scale.paddingBottom = 0;
            scale.paddingLeft = 0;
            scale.paddingRight = 0;
        },
    };
    if (conf.title) {
        axis.title = {
            display: true,
            text: conf.title,
            color: textColor,
            font: { family: serif, size: 20.5 },
            padding: conf.titlePadding,
        };
    }
    return axis;
}

function makeChart(id, w, datasets, layoutPad, scales, pluginOpts, extraPlugins = []) {
    const canvas = document.getElementById(id);
    canvas.width = w;
    canvas.height = 552;
    return new Chart(canvas, {
        type: "scatter",
        data: { datasets },
        options: {
            responsive: false,
            animation: false,
            events: [],
            devicePixelRatio: 1,
            layout: { padding: layoutPad, autoPadding: false },
            scales,
            plugins: { legend: { display: false }, tooltip: { enabled: false }, ...pluginOpts },
        },
        plugins: [frameTicks, noteText, ...extraPlugins],
    });
}

function gradientBar(ramp) {
    return (ctx) => {
        const { chart } = ctx;
        if (!chart.chartArea) return "#000";
        const { top, bottom } = chart.chartArea;
        const g = chart.ctx.createLinearGradient(0, bottom, 0, top);
        ramp.forEach(([t, c]) => g.addColorStop(t, c));
        return g;
    };
}

const magLabel = (v) => Number(v).toFixed(1);
const signedLabel = (digits) => (v) => {
    const n = Number(v);
    return (n < 0 ? "-" : "+") + Math.abs(n).toFixed(digits);
};

// left CMD
makeChart(
    "cmd-density", 332,
    [{
        type: "bar",
        indexAxis: "y",
        data: densityCells,
        backgroundColor: densityColors,
        barThickness: 4.8,
        borderWidth: 0,
        borderSkipped: false,
        grouped: false,
    }],
    { top: 6, right: 2, left: 0, bottom: 0 },
    {
        x: linearAxis({ ticks: densityXTicks, min: 0.33, max: 2.79, size: 47, padding: 1, title: "F438W\u2212F555W", titlePadding: { top: 0, bottom: 1 }, label: (v) => String(v) }),
        y: linearAxis({ ticks: densityYTicks, min: 14, max: 25, reverse: true, size: 67.7, padding: 3, title: "F555W", titlePadding: { top: 6, bottom: 0 }, label: magLabel }),
    },
    {
        frameTicks: { xMajor: densityXTicks, xMinor: range(0.4, 2.6, 0.2), yMajor: densityYTicks, yMinor: range(14.5, 24.5, 0.5) },
        noteText: { items: [{ text: "HST GO-11628 (PI:E. Noyola)", x: 81, y: 42, font: `15.7px ${serif}` }] },
    }
);

// star count colour bar
makeChart(
    "density-bar", 84,
    [{
        type: "bar",
        indexAxis: "x",
        data: [{ x: 0.5, y: [0, 10] }],
        backgroundColor: gradientBar(earthRamp),
        barThickness: 25.5,
        borderWidth: 0,
        borderSkipped: false,
    }],
    { top: 6, right: 0, left: 0, bottom: 47 },
    {
        x: { type: "linear", min: 0, max: 1, display: false, offset: false },
        y: {
            ...linearAxis({ ticks: densityBarTicks.map((n) => Math.sqrt(n)), min: 0, max: 10, size: 58.5, padding: 15, label: (v) => String(Math.round(v * v)) }),
            position: "right",
        },
    },
    {
        frameTicks: { outMajor: densityBarTicks.map((n) => Math.sqrt(n)) },
        noteText: {
            items: [
                { text: "N", x: 29, y: 22, font: `italic 19px ${serif}` },
                { text: "star", x: 42, y: 23, font: `13.5px ${serif}` },
            ],
        },
    }
);

// middle CMD, higher order is drawn first
makeChart(
    "cmd-stars", 320,
    [
        { data: toXY(fieldCore), showLine: true, fill: "shape", backgroundColor: "#bebebe", borderWidth: 0, pointRadius: 0, order: 7 },
        { data: toXY(fieldStars), pointRadius: 3.6, borderWidth: 1, borderColor: "rgba(165,165,165,0.38)", backgroundColor: "transparent", order: 6 },
        { data: toXY(hbRegion), showLine: true, fill: "shape", backgroundColor: hbColor, borderWidth: 0, pointRadius: 0, order: 5 },
        { data: toXY(memberCore), showLine: true, fill: "shape", backgroundColor: "#000", borderWidth: 0, pointRadius: 0, order: 4 },
        { data: toXY(memberStars), pointRadius: 3.6, borderWidth: 1.1, borderColor: memberRing, backgroundColor: "transparent", order: 3 },
        { data: toXY(gaiaStars), pointRadius: 4.5, borderWidth: 1.1, borderColor: gaiaRing, backgroundColor: "transparent", order: 2 },
        { data: toXY(obsStars), pointStyle: "triangle", pointRadius: [4.5, 9, 14, 5.5, 9.5, 10], borderWidth: 1, borderColor: obsEdge, backgroundColor: obsFill, order: 1 },
    ],
    { top: 6, right: 4, left: 0, bottom: 0 },
    {
        x: linearAxis({ ticks: cmdXTicks, min: 0.4, max: 2.4, size: 47, padding: 1, title: "F438W\u2212F555W", titlePadding: { top: 0, bottom: 1 }, label: magLabel }),
        y: linearAxis({ ticks: densityYTicks, min: 14, max: 25, reverse: true, size: 36.7, padding: 3, label: magLabel }),
    },
    {
        frameTicks: { xMajor: cmdXTicks, xMinor: range(0.4, 2.4, 0.1), yMajor: densityYTicks, yMinor: range(14.5, 24.5, 0.5) },
        noteText: {
            items: [
                { text: "HB region", x: 95, y: 32, font: `15.5px ${serif}` },
                { text: "P", x: 95, y: 55, font: `italic 15.5px ${serif}` },
                { text: "> 0.9", x: 106, y: 55, font: `15.5px ${serif}` },
                { text: "Gaia RGBs", x: 95, y: 77, font: `15.5px ${serif}` },
                { text: "Obs Stars", x: 95, y: 99, font: `15.5px ${serif}` },
            ],
        },
    },
    [legendKeys]
);

// dE(B-V) map
makeChart(
    "dered-map", 342,
    [
        {
            type: "bar",
            indexAxis: "y",
            data: mapCells,
            backgroundColor: mapColors,
            barThickness: 4.95,
            borderWidth: 0,
            borderSkipped: false,
            grouped: false,
            order: 3,
        },
        { data: [{ x: 0, y: -1.275 }, { x: 0, y: 1.275 }], showLine: true, borderColor: "#111", borderWidth: 1.2, borderDash: [1, 2], pointRadius: 0, order: 2 },
        { data: [{ x: -1.3, y: 0 }, { x: 1.3, y: 0 }], showLine: true, borderColor: "#111", borderWidth: 1.2, borderDash: [1, 2], pointRadius: 0, order: 2 },
        { data: arrowRA.map((x, i) => ({ x, y: arrowDEC[i] })), showLine: true, borderColor: "#222", borderWidth: 1, pointRadius: 0, order: 1 },
    ],
    { top: 125, right: 1.7, left: 0, bottom: 0 },
    {
        x: linearAxis({ ticks: mapXTicks, min: -1.3, max: 1.3, reverse: true, size: 177, padding: 1, label: signedLabel(2) }),
        y: linearAxis({ ticks: mapYTicks, min: -1.275, max: 1.275, size: 78.3, padding: 4, title: "\u0394DEC (arcmin)", titlePadding: { top: 0, bottom: 0 }, label: signedLabel(2) }),
    },
    {
        frameTicks: { xMajor: mapXTicks, xMinor: range(-1.2, 1.2, 0.2), yMajor: mapYTicks, yMinor: range(-1.2, 1.2, 0.1) },
        noteText: {
            items: [
                { text: "R", x: 92, y: 148, font: `italic 15.5px ${serif}` },
                { text: "= 0.024 arcmin", x: 103, y: 148, font: `15.5px ${serif}` },
                { text: "1.76 arcmin", x: 133, y: 363, font: `15px ${serif}` },
                { text: "\u0394RA (arcmin)", x: 209, y: 417, font: `20.5px ${serif}`, align: "center" },
            ],
        },
    },
    [arrowHeads]
);

// dE colour bar
makeChart(
    "dered-bar", 98,
    [{
        type: "bar",
        indexAxis: "x",
        data: [{ x: 0.5, y: [0, 1] }],
        backgroundColor: gradientBar(spectralRamp),
        barThickness: 12.6,
        borderWidth: 0,
        borderSkipped: false,
    }],
    { top: 125, right: 0, left: 0, bottom: 177 },
    {
        x: { type: "linear", min: 0, max: 1, display: false, offset: false },
        y: {
            ...linearAxis({ ticks: mapBarTicks.map(dePos), min: 0, max: 1, size: 85.4, padding: 15, label: (v, i) => signedLabel(2)(mapBarTicks[i]) }),
            position: "right",
        },
    },
    {
        frameTicks: { outMajor: mapBarTicks.map(dePos) },
        noteText: { items: [{ text: "\u03b4E(B\u2212V)", x: 91, y: 250, font: `14px ${serif}`, align: "center", rotate: -Math.PI / 2 }] },
    }
);
</script>
</body>
</html>
